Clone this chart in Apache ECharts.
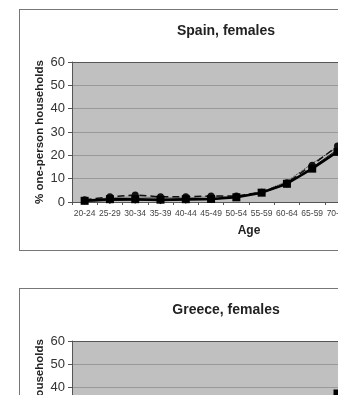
<!DOCTYPE html>
<html>
<head>
<meta charset="utf-8">
<script src="https://cdn.jsdelivr.net/npm/echarts@6/dist/echarts.min.js"></script>
<style>
  html, body { margin: 0; padding: 0; background: #fff; overflow: hidden; width: 338px; height: 395px; }
  .box { position: absolute; left: 19px; width: 412px; height: 240px; border: 1px solid #777; background: #fff; }
</style>
</head>
<body>
<div id="spain" class="box" style="top:9px"></div>
<div id="greece" class="box" style="top:288px"></div>
<script>
var ages = ['20-24','25-29','30-34','35-39','40-44','45-49','50-54','55-59','60-64','65-59','70-74','75-79','80-84','85+'];
var yTicks = [0, 10, 20, 30, 40, 50, 60];

// Spain, females
var spainA = [0.5, 1.2, 1.2, 1.0, 1.2, 1.3, 2.0, 4.0, 7.8, 14.3, 21.5, 30.0, 38.0, 44.0];
var spainB = [1.0, 2.2, 3.0, 2.2, 2.2, 2.6, 2.6, 4.2, 8.2, 15.8, 24.0, 32.0, 40.0, 46.0];
var spainC = [0.3, 0.6, 0.8, 0.5, 0.8, 1.0, 2.2, 4.0, 7.6, 14.8, 22.5, 31.0, 39.0, 45.0];
var spainD = [0.8, 1.8, 2.2, 1.8, 1.8, 2.2, 2.4, 4.3, 8.8, 16.5, 23.5, 31.5, 39.5, 45.5];

// Greece, females
var greeceA = [0.6, 1.0, 1.2, 1.2, 1.5, 2.0, 3.0, 5.5, 10.0, 19.0, 37.5, 45.0, 50.0, 52.0];
var greeceB = [0.8, 1.5, 1.8, 1.6, 1.8, 2.4, 3.4, 6.0, 11.0, 20.0, 33.0, 42.0, 48.0, 50.0];
var greeceC = [0.4, 0.8, 1.0, 1.0, 1.2, 1.8, 2.8, 5.0, 9.5, 18.0, 32.0, 41.0, 47.0, 49.0];
var greeceD = [0.7, 1.2, 1.5, 1.4, 1.6, 2.2, 3.2, 5.8, 10.5, 19.5, 34.0, 43.0, 49.0, 51.0];

var font = 'Liberation Sans, Arial, sans-serif';

function makeOption(title, a, b, c, d) {
  return {
    animation: false,
    title: {
      text: title, left: 'center', top: 9,
      textStyle: { fontFamily: font, fontSize: 14, fontWeight: 'bold', color: '#222' }
    },
    grid: { left: 52, top: 52, width: 354, height: 140, show: true, backgroundColor: '#c0c0c0', borderWidth: 0 },
    xAxis: {
      type: 'category', data: ages, boundaryGap: true,
      name: 'Age', nameLocation: 'middle', nameGap: 23, nameMoveOverlap: false,
      nameTextStyle: { fontFamily: font, fontSize: 12, fontWeight: 'bold', color: '#222' },
      axisLine: { lineStyle: { color: '#555', width: 1 } },
      axisTick: { show: true, length: 3, lineStyle: { color: '#555' } },
      axisLabel: { fontFamily: font, fontSize: 8.5, color: '#444', margin: 7, interval: 0 }
    },
    yAxis: {
      type: 'value', min: yTicks[0], max: yTicks[yTicks.length - 1], interval: 10,
      name: '% one-person households', nameLocation: 'middle', nameGap: 26, nameMoveOverlap: false,
      nameTextStyle: { fontFamily: font, fontSize: 11.5, fontWeight: 'bold', color: '#222' },
      axisLine: { show: true, lineStyle: { color: '#555', width: 1 } },
      axisTick: { show: true, length: 4, lineStyle: { color: '#555' } },
      axisLabel: { fontFamily: font, fontSize: 13, color: '#333', margin: 7 },
      splitLine: { show: true, lineStyle: { color: ['#999', '#999', '#999', '#999', '#999', '#999', '#555'], width: 1 } }
    },
    series: [
      { type: 'line', data: d, symbol: 'none', lineStyle: { color: '#222', width: 1, type: 'dotted' }, z: 2 },
      { type: 'line', data: c, symbol: 'diamond', symbolSize: 7, itemStyle: { color: '#111' }, lineStyle: { color: '#111', width: 1 }, z: 3 },
      { type: 'line', data: b, symbol: 'circle', symbolSize: 7, itemStyle: { color: '#111' }, lineStyle: { color: '#111', width: 1.5, type: [7, 4] }, z: 4 },
      { type: 'line', data: a, symbol: 'rect', symbolSize: 8, itemStyle: { color: '#000' }, lineStyle: { color: '#000', width: 2.5 }, z: 5 }
    ]
  };
}

echarts.init(document.getElementById('spain')).setOption(makeOption('Spain, females', spainA, spainB, spainC, spainD));
echarts.init(document.getElementById('greece')).setOption(makeOption('Greece, females', greeceA, greeceB, greeceC, greeceD));
</script>
</body>
</html>
